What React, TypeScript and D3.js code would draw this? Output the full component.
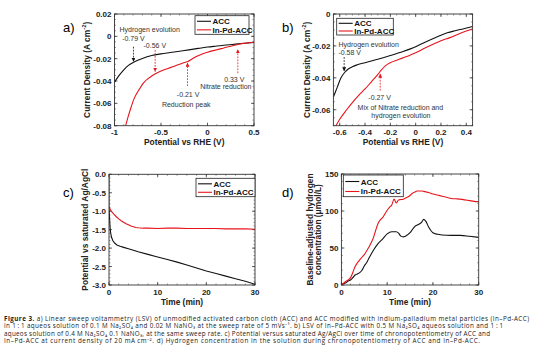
import * as d3 from "d3";
import React from "react";

const FONT = "'Liberation Sans', Arial, sans-serif";
const CAPTION_FONT = "'Open Sans', sans-serif";
const RED = "#e8141c";
const BLACK = "#111";

// a) LSV in 0.1 M Na2SO4 + 0.02 M NaNO3
const aAccV = [-1, -0.95, -0.9, -0.85, -0.8, -0.75, -0.7, -0.65, -0.6, -0.5, -0.4, -0.3, -0.2, -0.1, 0, 0.1, 0.2, 0.3, 0.4, 0.5];
const aAccJ = [-0.041, -0.035, -0.03, -0.026, -0.0235, -0.0215, -0.0198, -0.0183, -0.0172, -0.0157, -0.0145, -0.0133, -0.0121, -0.0108, -0.0096, -0.0087, -0.0078, -0.007, -0.0062, -0.0054];
const aPdV = [-0.88, -0.85, -0.82, -0.79, -0.76, -0.73, -0.7, -0.67, -0.64, -0.6, -0.56, -0.5, -0.45, -0.4, -0.35, -0.3, -0.25, -0.21, -0.17, -0.12, -0.05, 0, 0.05, 0.1, 0.15, 0.2, 0.25, 0.3, 0.35, 0.4, 0.45, 0.5];
const aPdJ = [-0.08, -0.071, -0.063, -0.056, -0.051, -0.047, -0.043, -0.04, -0.038, -0.0355, -0.0335, -0.031, -0.0295, -0.028, -0.0265, -0.025, -0.0235, -0.0225, -0.0205, -0.018, -0.0155, -0.0142, -0.013, -0.012, -0.011, -0.0098, -0.0088, -0.0078, -0.0068, -0.0062, -0.0057, -0.0053];

// b) LSV in 0.4 M Na2SO4 + 0.1 NaNO3
const bAccV = [-0.65, -0.62, -0.59, -0.56, -0.53, -0.5, -0.46, -0.4, -0.33, -0.25, -0.2, -0.1, 0, 0.07, 0.15, 0.2, 0.25, 0.31, 0.38, 0.45];
const bAccJ = [-0.052, -0.046, -0.04, -0.0365, -0.0343, -0.033, -0.0318, -0.0305, -0.029, -0.0272, -0.026, -0.0235, -0.0205, -0.0178, -0.015, -0.0133, -0.0118, -0.0105, -0.0092, -0.0078];
const bPdV = [-0.63, -0.6, -0.55, -0.5, -0.45, -0.4, -0.35, -0.3, -0.27, -0.24, -0.2, -0.15, -0.1, -0.05, 0, 0.07, 0.15, 0.2, 0.27, 0.34, 0.4, 0.45];
const bPdJ = [-0.07, -0.066, -0.0605, -0.0555, -0.051, -0.047, -0.0425, -0.038, -0.035, -0.0325, -0.0305, -0.029, -0.0275, -0.026, -0.0243, -0.0215, -0.0185, -0.0168, -0.0148, -0.0125, -0.0107, -0.0093];

// c) chronopotentiometry
const cAccT = [0, 0.1, 0.2, 0.3, 0.5, 0.8, 1.2, 1.7, 2.3, 3, 4, 5, 6, 8, 10, 12, 14, 16, 18, 20, 22, 24, 26, 28, 30];
const cAccE = [-0.9, -1.15, -1.4, -1.55, -1.7, -1.8, -1.87, -1.92, -1.95, -1.98, -2.02, -2.06, -2.1, -2.17, -2.24, -2.31, -2.38, -2.46, -2.54, -2.62, -2.69, -2.76, -2.83, -2.9, -2.98];
const cPdT = [0, 0, 0.1, 0.3, 0.6, 1, 1.5, 2, 2.5, 3, 3.5, 4, 4.5, 5, 5.5, 6, 7, 8, 10, 12, 14, 16, 18, 20, 22, 24, 26, 28, 30];
const cPdE = [0, -0.86, -0.9, -0.96, -1.02, -1.08, -1.15, -1.21, -1.26, -1.3, -1.34, -1.37, -1.4, -1.42, -1.44, -1.45, -1.46, -1.46, -1.47, -1.46, -1.46, -1.47, -1.47, -1.47, -1.47, -1.48, -1.48, -1.48, -1.49];

// d) hydrogen concentration
const dAccT = [0, 0.5, 1, 1.5, 2, 2.5, 3, 3.5, 4, 4.5, 5, 5.5, 6, 7, 8, 9, 10, 11, 12, 12.5, 13, 13.5, 14, 15, 16, 17, 17.5, 18, 18.5, 19, 19.5, 20, 21, 22, 24, 26, 28, 30];
const dAccH = [0, 2, 3, 5.4, 6.8, 10, 13.5, 15, 16.7, 20, 25.7, 30, 36, 47, 56, 62, 69, 72, 72, 70, 66, 65, 66, 70.7, 79, 82.4, 84.7, 88.7, 85.6, 79, 74, 70.7, 68.5, 67.6, 67, 67, 65.8, 64.4];
const dPdT = [0, 0.5, 1, 1.5, 2, 2.5, 3, 3.5, 4, 4.5, 5, 5.5, 6, 6.5, 7, 7.5, 8, 8.5, 9, 9.5, 10, 10.5, 11, 11.5, 12, 12.5, 13, 13.5, 14, 14.5, 15, 15.5, 16, 16.5, 17, 17.5, 18, 19, 20, 21, 22, 23, 24, 25, 26, 27, 28, 29, 30];
const dPdH = [0, 2.5, 5, 7, 10, 17, 25, 30, 34, 37.5, 41, 46, 51, 57, 64, 74, 83, 88, 91, 96, 101, 105, 108, 116, 111, 115, 115.5, 116, 117.5, 119, 121, 124, 125.5, 127, 127, 127, 126.5, 125, 123, 121.5, 120, 118.5, 117, 116.5, 116, 115, 114, 113, 112.6];

const names = ["ACC", "In-Pd-ACC"];

const captionLines = [
  "**Figure 3.** a) Linear sweep voltammetry (LSV) of unmodified activated carbon cloth (ACC) and ACC modified with indium-palladium metal particles (In\u2013Pd-ACC)",
  "in 1\u2009:\u20091 aqueos solution of 0.1 M Na\u2082SO\u2084 and 0.02 M NaNO\u2083 at the sweep rate of 5 mVs\u207b\u00b9. b) LSV of In\u2013Pd-ACC with 0.5 M Na\u2082SO\u2084 aqueos solution and 1\u2009:\u20091",
  "aqueos solution of 0.4 M Na\u2082SO\u2084 0.1 NaNO\u2083, at the same sweep rate. c) Potential versus saturated Ag/AgCl over time of chronopotentiometry of ACC and",
  "In\u2013Pd-ACC at current density of 20 mA\u2009cm\u207b\u00b2. d) Hydrogen concentration in the solution during chronopotentiometry of ACC and In\u2013Pd-ACC.",
];
const captionWidths = [525, 499, 486, 476];

// text with **bold**, _{sub} and ^{sup}
function rich(s: string, size: number) {
  const parts = s.split(/(\*\*[^*]+\*\*|_\{[^}]*\}|\^\{[^}]*\})/).filter((p) => p);
  let off = 0;
  return parts.map((p, i) => {
    let txt = p, shift = 0, weight: string | undefined, fs: number | undefined;
    if (p.startsWith("**")) { txt = p.slice(2, -2); weight = "bold"; }
    else if (p.startsWith("_{")) { txt = p.slice(2, -1); shift = size * 0.28; fs = size * 0.7; }
    else if (p.startsWith("^{")) { txt = p.slice(2, -1); shift = -size * 0.42; fs = size * 0.7; }
    const dy = shift - off;
    off = shift;
    return <tspan key={i} dy={dy || undefined} fontWeight={weight} fontSize={fs}>{txt}</tspan>;
  });
}

type Note = { text: string; x: number; y: number };
type Arrow = { x: number; from: number; to: number; color: string };

function Panel(p: any) {
  const { id, box, xDom, yDom, xTicks, yTicks, xMinor, yMinor, fmtX, fmtY, series, curve, legend, letter, xTitle, yTitle, yTitleX, notes = [], arrows = [] } = p;
  const x = d3.scaleLinear(xDom, [box.l, box.r]);
  const y = d3.scaleLinear(yDom, [box.b, box.t]);
  const line = d3.line<[number, number]>((d) => x(d[0]), (d) => y(d[1])).curve(curve || d3.curveLinear);
  const minX = d3.range(xDom[0], xDom[1] + 1e-9, xMinor);
  const minY = d3.range(yDom[0], yDom[1] + 1e-9, yMinor);
  const cy = (box.t + box.b) / 2;
  const fs = 8;
  return (
    <g>
      <defs>
        <clipPath id={`clip-${id}`}>
          <rect x={box.l} y={box.t} width={box.r - box.l} height={box.b - box.t} />
        </clipPath>
        {[BLACK, RED].map((c, i) => (
          <marker key={i} id={`arr-${id}-${i}`} markerUnits="userSpaceOnUse" markerWidth={5} markerHeight={5} refX={4} refY={2} orient="auto">
            <path d="M0,0 L4,2 L0,4 z" fill={c} />
          </marker>
        ))}
      </defs>
      <text x={letter.x} y={letter.y} fontFamily={FONT} fontSize={13}>{letter.t}</text>
      {/* minor ticks */}
      <g stroke="#333" strokeWidth={0.5}>
        {minX.map((v: number, i: number) => (
          <g key={`mx${i}`}>
            <line x1={x(v)} x2={x(v)} y1={box.b} y2={box.b - 1.5} />
            <line x1={x(v)} x2={x(v)} y1={box.t} y2={box.t + 1.5} />
          </g>
        ))}
        {minY.map((v: number, i: number) => (
          <g key={`my${i}`}>
            <line y1={y(v)} y2={y(v)} x1={box.l} x2={box.l + 1.5} />
            <line y1={y(v)} y2={y(v)} x1={box.r} x2={box.r - 1.5} />
          </g>
        ))}
      </g>
      <g stroke="#222" strokeWidth={0.7}>
        {xTicks.map((v: number, i: number) => (
          <g key={`tx${i}`}>
            <line x1={x(v)} x2={x(v)} y1={box.b} y2={box.b - 3} />
            <line x1={x(v)} x2={x(v)} y1={box.t} y2={box.t + 3} />
          </g>
        ))}
        {yTicks.map((v: number, i: number) => (
          <g key={`ty${i}`}>
            <line y1={y(v)} y2={y(v)} x1={box.l} x2={box.l + 3} />
            <line y1={y(v)} y2={y(v)} x1={box.r} x2={box.r - 3} />
          </g>
        ))}
      </g>
      <g fontFamily={FONT} fontWeight="bold" fontSize={fs} fill="#222">
        {xTicks.map((v: number, i: number) => (
          <text key={`lx${i}`} x={x(v)} y={box.b + 9.5} textAnchor="middle">{fmtX(v)}</text>
        ))}
        {yTicks.map((v: number, i: number) => (
          <text key={`ly${i}`} x={box.l - 3} y={y(v) + 3} textAnchor="end">{fmtY(v)}</text>
        ))}
        <text x={(box.l + box.r) / 2} y={box.b + 19.5} textAnchor="middle" fontSize={8.4}>{xTitle}</text>
        {yTitle.map((t: string, i: number) => (
          <text key={`yt${i}`} transform={`translate(${yTitleX[i]},${cy}) rotate(-90)`} y={3} textAnchor="middle" fontSize={8.4}>
            {rich(t, 8.4)}
          </text>
        ))}
      </g>
      <g clipPath={`url(#clip-${id})`} fill="none" strokeWidth={1.1}>
        {series.map((s: any, i: number) => (
          <path key={i} d={line(d3.zip(s.xs, s.ys) as [number, number][]) || ""} stroke={s.color} />
        ))}
      </g>
      <g fontFamily={FONT} fontSize={7} fill="#333">
        {notes.map((n: Note, i: number) => (
          <text key={i} x={x(n.x)} y={y(n.y) + 2.5}>{n.text}</text>
        ))}
      </g>
      {arrows.map((a: Arrow, i: number) => (
        <line key={i} x1={x(a.x)} x2={x(a.x)} y1={y(a.from)} y2={y(a.to)} stroke={a.color} strokeWidth={0.8} strokeDasharray="1.8,1.2" markerEnd={`url(#arr-${id}-${a.color === RED ? 1 : 0})`} />
      ))}
      <rect x={box.l} y={box.t} width={box.r - box.l} height={box.b - box.t} fill="none" stroke="#333" strokeWidth={0.9} />
      <g>
        <rect x={legend.x} y={legend.y} width={legend.w} height={legend.h} fill="white" stroke="#222" strokeWidth={0.8} />
        {series.map((s: any, i: number) => {
          const ly = legend.y + legend.h * (i === 0 ? 0.3 : 0.76);
          return (
            <g key={i}>
              <line x1={legend.x + 2} x2={legend.x + 16} y1={ly} y2={ly} stroke={s.color} strokeWidth={1.1} />
              <text x={legend.x + 17.5} y={ly + 3} fontFamily={FONT} fontWeight="bold" fontSize={8} fill="#111">{s.name}</text>
            </g>
          );
        })}
      </g>
    </g>
  );
}

const trim = (v: number) => (v === 0 ? "0" : String(+v.toFixed(2)));

export default function App() {
  return (
    <svg width={554} height={363} style={{ position: "absolute", left: 0, top: 0, background: "white" }}>
      <Panel
        id="a"
        box={{ l: 114.5, r: 254, t: 14, b: 125.7 }}
        xDom={[-1, 0.5]} yDom={[-0.08, 0.02]}
        xTicks={[-1, -0.5, 0, 0.5]} yTicks={[-0.08, -0.06, -0.04, -0.02, 0, 0.02]}
        xMinor={0.1} yMinor={0.005}
        fmtX={trim} fmtY={(v: number) => (v === 0 ? "0" : v.toFixed(2))}
        curve={d3.curveMonotoneX}
        series={[
          { xs: aAccV, ys: aAccJ, color: BLACK, name: names[0] },
          { xs: aPdV, ys: aPdJ, color: RED, name: names[1] },
        ]}
        legend={{ x: 195, y: 15.7, w: 54, h: 18.6 }}
        letter={{ x: 63, y: 32, t: "a)" }}
        xTitle="Potential vs RHE (V)"
        yTitle={["Current Density (A cm^{-2})"]} yTitleX={[87]}
        notes={[
          { text: "Hydrogen evolution", x: -0.946, y: 0.0063 },
          { text: "-0.79 V", x: -0.918, y: -0.002 },
          { text: "-0.56 V", x: -0.688, y: -0.008 },
          { text: "0.33 V", x: 0.179, y: -0.0385 },
          { text: "Nitrate reduction", x: -0.079, y: -0.045 },
          { text: "-0.21 V", x: -0.33, y: -0.0525 },
          { text: "Reduction peak", x: -0.49, y: -0.0606 },
        ]}
        arrows={[
          { x: -0.796, from: -0.0093, to: -0.0227, color: BLACK },
          { x: -0.563, from: -0.0122, to: -0.0316, color: RED },
          { x: -0.215, from: -0.0445, to: -0.0236, color: RED },
          { x: 0.326, from: -0.033, to: -0.0116, color: RED },
        ]}
      />
      <Panel
        id="b"
        box={{ l: 333.4, r: 472.6, t: 14, b: 125.7 }}
        xDom={[-0.65, 0.45]} yDom={[-0.07, 0]}
        xTicks={[-0.6, -0.4, -0.2, 0, 0.2, 0.4]} yTicks={[-0.06, -0.04, -0.02, 0]}
        xMinor={0.05} yMinor={0.005}
        fmtX={(v: number) => (Math.abs(v) < 1e-9 ? "0" : v.toFixed(1))} fmtY={(v: number) => (v === 0 ? "0" : v.toFixed(2))}
        curve={d3.curveMonotoneX}
        series={[
          { xs: bAccV, ys: bAccJ, color: BLACK, name: names[0] },
          { xs: bPdV, ys: bPdJ, color: RED, name: names[1] },
        ]}
        legend={{ x: 336.7, y: 18.3, w: 56.6, h: 16.7 }}
        letter={{ x: 282, y: 32, t: "b)" }}
        xTitle="Potential vs RHE (V)"
        yTitle={["Current Density (A cm^{-2})"]} yTitleX={[306.7]}
        notes={[
          { text: "Hydrogen evolution", x: -0.61, y: -0.019 },
          { text: "-0.58 V", x: -0.61, y: -0.0244 },
          { text: "-0.27 V", x: -0.374, y: -0.0522 },
          { text: "Mix of Nitrate reduction and", x: -0.459, y: -0.0585 },
          { text: "hydrogen evolution", x: -0.35, y: -0.0638 },
        ]}
        arrows={[
          { x: -0.565, from: -0.027, to: -0.0358, color: BLACK },
          { x: -0.28, from: -0.048, to: -0.0375, color: RED },
        ]}
      />
      <Panel
        id="c"
        box={{ l: 109, r: 255, t: 174.3, b: 285 }}
        xDom={[0, 30]} yDom={[-3, 0]}
        xTicks={[0, 10, 20, 30]} yTicks={[-3, -2.5, -2, -1.5, -1, -0.5, 0]}
        xMinor={2} yMinor={0.1}
        fmtX={(v: number) => String(v)} fmtY={(v: number) => v.toFixed(1)}
        series={[
          { xs: cAccT, ys: cAccE, color: BLACK, name: names[0] },
          { xs: cPdT, ys: cPdE, color: RED, name: names[1] },
        ]}
        legend={{ x: 196, y: 178.3, w: 59, h: 18.4 }}
        letter={{ x: 63, y: 196.5, t: "c)" }}
        xTitle="Time (min)"
        yTitle={["Potential vs saturated Ag/AgCl"]} yTitleX={[85]}
      />
      <Panel
        id="d"
        box={{ l: 341.4, r: 478.7, t: 174, b: 285 }}
        xDom={[0, 30]} yDom={[0, 150]}
        xTicks={[0, 10, 20, 30]} yTicks={[0, 50, 100, 150]}
        xMinor={2} yMinor={10}
        fmtX={(v: number) => String(v)} fmtY={(v: number) => String(v)}
        curve={d3.curveMonotoneX}
        series={[
          { xs: dAccT, ys: dAccH, color: BLACK, name: names[0] },
          { xs: dPdT, ys: dPdH, color: RED, name: names[1] },
        ]}
        legend={{ x: 343.3, y: 175, w: 60, h: 21.7 }}
        letter={{ x: 282, y: 196.5, t: "d)" }}
        xTitle="Time (min)"
        yTitle={["Baseline-adjusted hydrogen", "concentration (\u03bcmol/L)"]} yTitleX={[310, 318.3]}
      />
      <g fontFamily={CAPTION_FONT} fontSize={6.3} fill="#222">
        {captionLines.map((s, i) => (
          <text key={i} x={4} y={320.5 + i * 7.5} textLength={captionWidths[i]} lengthAdjust="spacing">
            {rich(s, 6.3)}
          </text>
        ))}
      </g>
    </svg>
  );
}
